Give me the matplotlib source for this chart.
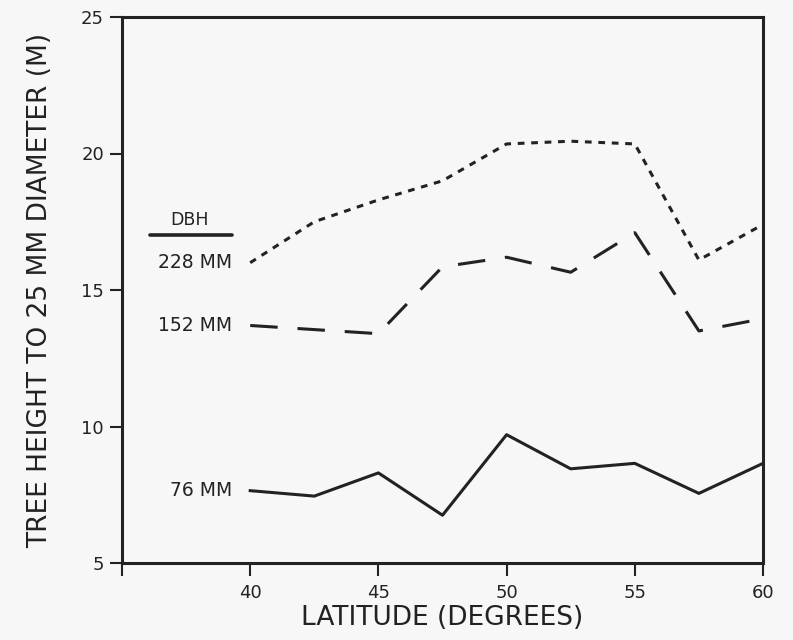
import matplotlib
matplotlib.use("Agg")
import matplotlib.pyplot as plt

latitude = [40, 42.5, 45, 47.5, 50, 52.5, 55, 57.5, 60]
height_228 = [16.0, 17.5, 18.3, 19.0, 20.35, 20.45, 20.35, 16.1, 17.4]
height_152 = [13.7, 13.55, 13.4, 15.85, 16.2, 15.65, 17.1, 13.5, 13.95]
height_76 = [7.65, 7.45, 8.3, 6.75, 9.7, 8.45, 8.65, 7.55, 8.65]
series_labels = ["228 MM", "152 MM", "76 MM"]
x_ticks = [35, 40, 45, 50, 55, 60]
x_tick_labels = ["", "40", "45", "50", "55", "60"]
y_ticks = [5, 10, 15, 20, 25]

ink = "#222222"
bg = "#f7f7f7"
plt.rcParams["font.family"] = ["DejaVu Sans"]

fig = plt.figure(figsize=(7.93, 6.4), dpi=100, facecolor=bg)
ax = fig.add_axes([122 / 793, 1 - 563 / 640, (763 - 122) / 793, (563 - 17) / 640])
ax.set_facecolor(bg)

lw = 2.2
ax.plot(latitude, height_228, color=ink, lw=lw, dashes=(2.2, 2.2))
ax.plot(latitude, height_152, color=ink, lw=lw, dashes=(9, 6.5))
ax.plot(latitude, height_76, color=ink, lw=lw)

ax.set_xlim(35, 60)
ax.set_ylim(5, 25)
ax.set_xticks(x_ticks)
ax.set_xticklabels(x_tick_labels)
ax.set_yticks(y_ticks)

for side in ["left", "bottom", "top", "right"]:
    ax.spines[side].set_linewidth(2.2)
    ax.spines[side].set_color(ink)
ax.tick_params(axis="both", direction="out", length=9, width=1.5, color=ink,
               labelsize=13, labelcolor=ink, pad=6)
ax.tick_params(axis="y", pad=4)

ax.set_xlabel("LATITUDE (DEGREES)", fontsize=19, color=ink, labelpad=2)
ax.set_ylabel("TREE HEIGHT TO 25 MM DIAMETER (M)", fontsize=19, color=ink, labelpad=20)

# series names sit just left of each line's first point
label_x = 39.3
for name, values in zip(series_labels, [height_228, height_152, height_76]):
    ax.text(label_x, values[0], name, ha="right", va="center", fontsize=13.5, color=ink)

ax.text(37.65, 17.55, "DBH", ha="center", va="center", fontsize=12.5, color=ink)
ax.plot([36.1, 39.3], [17.0, 17.0], color=ink, lw=2.6, solid_capstyle="round")

fig.savefig("out.png", dpi=100, facecolor=bg)
